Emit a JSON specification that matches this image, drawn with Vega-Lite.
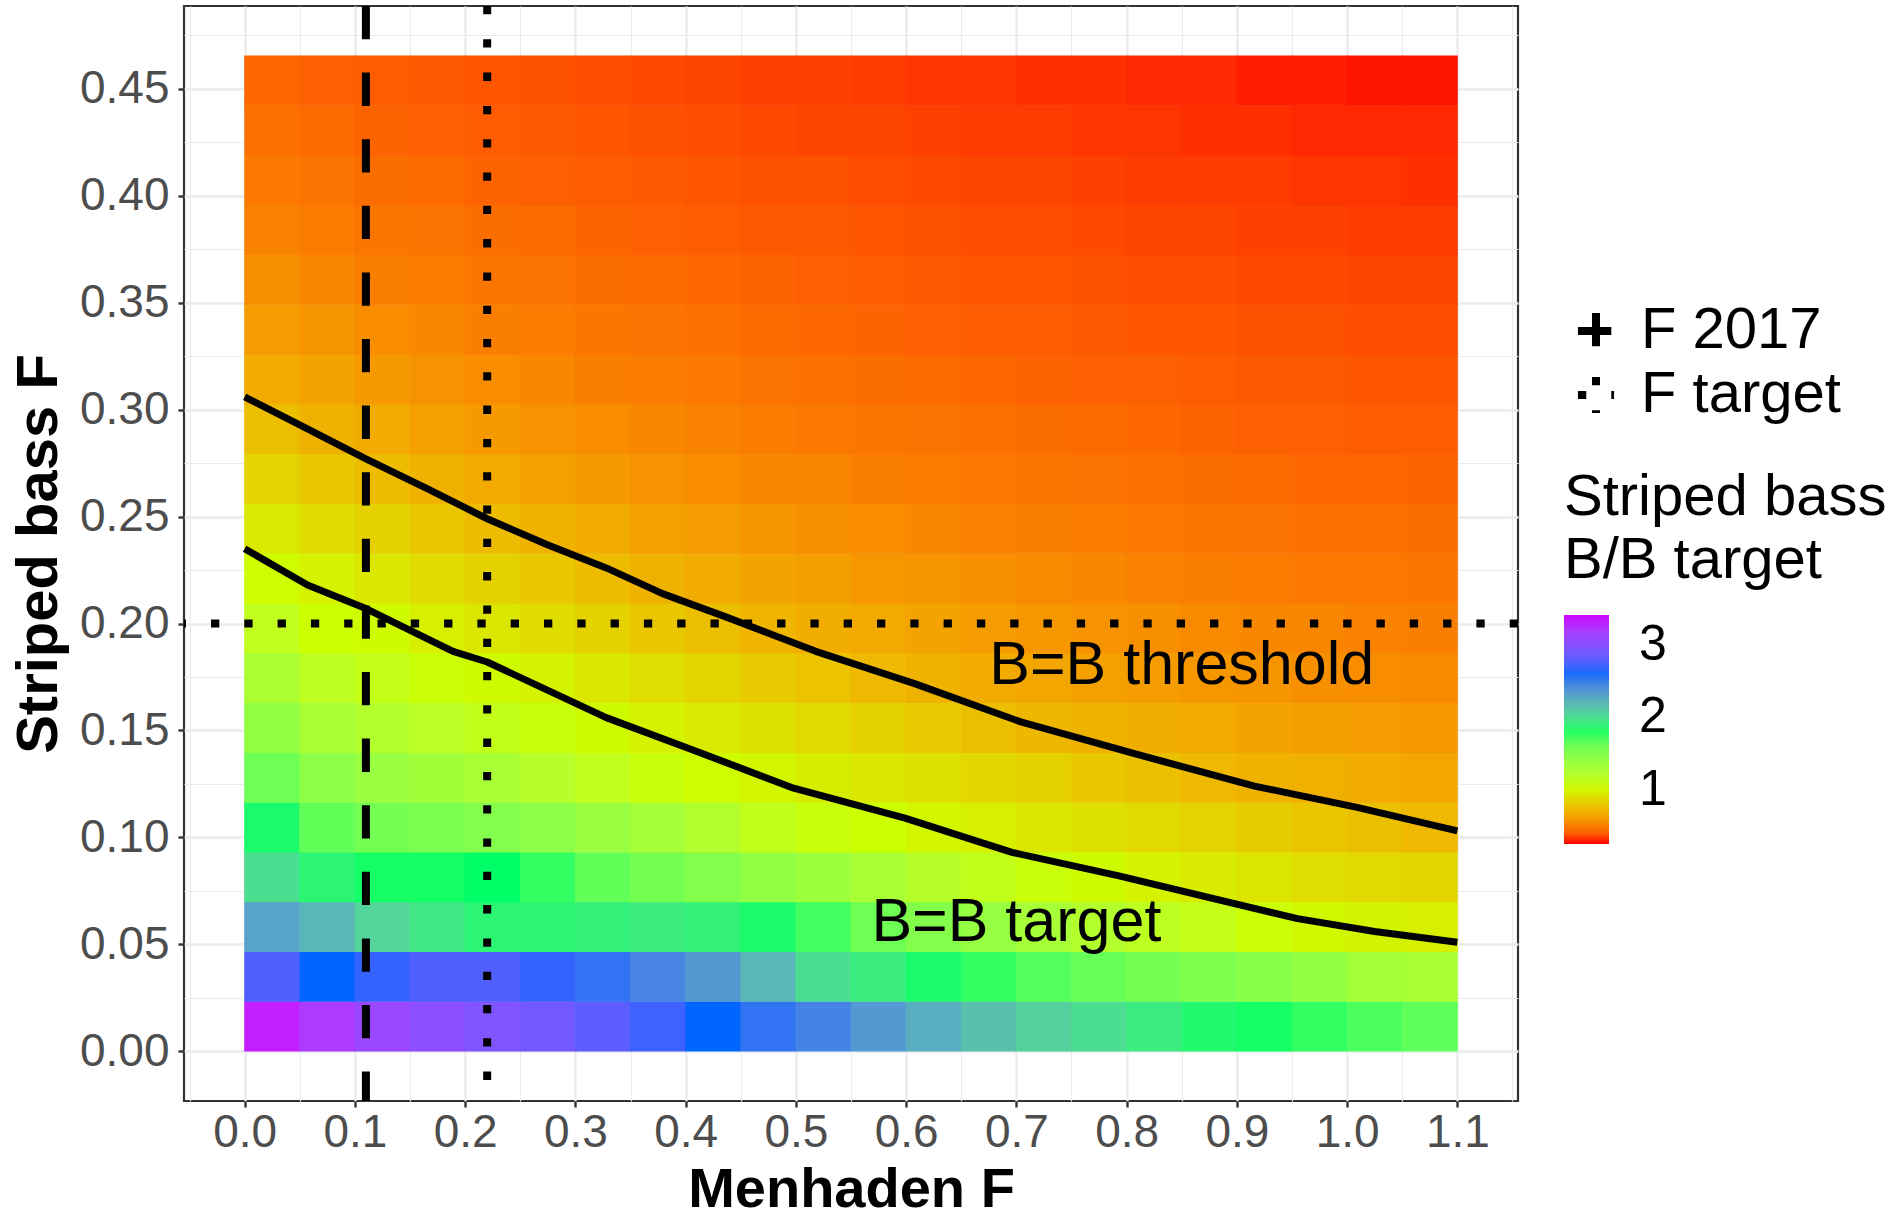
{
"$schema":"https://vega.github.io/schema/vega-lite/v6.json",
"autosize":{"type":"none"},
"padding":{"left":184,"top":6,"right":379,"bottom":119},
"width":1334,
"height":1095,
"background":"#FFFFFF",
"config":{"font":"Liberation Sans","view":{"stroke":"#333333","strokeWidth":2.2}},
"datasets":{
"heat":[
{"x":0.025,"y":0.0116,"v":3.35},{"x":0.075,"y":0.0116,"v":3.2},{"x":0.125,"y":0.0116,"v":3.1},{"x":0.175,"y":0.0116,"v":3.02},{"x":0.225,"y":0.0116,"v":2.95},{"x":0.275,"y":0.0116,"v":2.88},{"x":0.325,"y":0.0116,"v":2.8},{"x":0.375,"y":0.0116,"v":2.7},{"x":0.425,"y":0.0116,"v":2.62},{"x":0.475,"y":0.0116,"v":2.55},{"x":0.525,"y":0.0116,"v":2.47},{"x":0.575,"y":0.0116,"v":2.35},{"x":0.625,"y":0.0116,"v":2.25},{"x":0.675,"y":0.0116,"v":2.15},{"x":0.725,"y":0.0116,"v":2.07},{"x":0.775,"y":0.0116,"v":2.0},{"x":0.825,"y":0.0116,"v":1.93},{"x":0.875,"y":0.0116,"v":1.86},{"x":0.925,"y":0.0116,"v":1.82},{"x":0.975,"y":0.0116,"v":1.78},{"x":1.025,"y":0.0116,"v":1.72},{"x":1.075,"y":0.0116,"v":1.66},
{"x":0.025,"y":0.0349,"v":2.75},{"x":0.075,"y":0.0349,"v":2.62},{"x":0.125,"y":0.0349,"v":2.68},{"x":0.175,"y":0.0349,"v":2.75},{"x":0.225,"y":0.0349,"v":2.75},{"x":0.275,"y":0.0349,"v":2.68},{"x":0.325,"y":0.0349,"v":2.55},{"x":0.375,"y":0.0349,"v":2.45},{"x":0.425,"y":0.0349,"v":2.35},{"x":0.475,"y":0.0349,"v":2.2},{"x":0.525,"y":0.0349,"v":2.0},{"x":0.575,"y":0.0349,"v":1.92},{"x":0.625,"y":0.0349,"v":1.85},{"x":0.675,"y":0.0349,"v":1.78},{"x":0.725,"y":0.0349,"v":1.7},{"x":0.775,"y":0.0349,"v":1.63},{"x":0.825,"y":0.0349,"v":1.57},{"x":0.875,"y":0.0349,"v":1.52},{"x":0.925,"y":0.0349,"v":1.47},{"x":0.975,"y":0.0349,"v":1.42},{"x":1.025,"y":0.0349,"v":1.32},{"x":1.075,"y":0.0349,"v":1.28},
{"x":0.025,"y":0.0582,"v":2.3},{"x":0.075,"y":0.0582,"v":2.2},{"x":0.125,"y":0.0582,"v":2.05},{"x":0.175,"y":0.0582,"v":1.95},{"x":0.225,"y":0.0582,"v":1.88},{"x":0.275,"y":0.0582,"v":1.88},{"x":0.325,"y":0.0582,"v":1.9},{"x":0.375,"y":0.0582,"v":1.92},{"x":0.425,"y":0.0582,"v":1.9},{"x":0.475,"y":0.0582,"v":1.85},{"x":0.525,"y":0.0582,"v":1.75},{"x":0.575,"y":0.0582,"v":1.6},{"x":0.625,"y":0.0582,"v":1.5},{"x":0.675,"y":0.0582,"v":1.4},{"x":0.725,"y":0.0582,"v":1.3},{"x":0.775,"y":0.0582,"v":1.22},{"x":0.825,"y":0.0582,"v":1.15},{"x":0.875,"y":0.0582,"v":1.1},{"x":0.925,"y":0.0582,"v":1.05},{"x":0.975,"y":0.0582,"v":1.01},{"x":1.025,"y":0.0582,"v":0.99},{"x":1.075,"y":0.0582,"v":0.97},
{"x":0.025,"y":0.0815,"v":2.0},{"x":0.075,"y":0.0815,"v":1.88},{"x":0.125,"y":0.0815,"v":1.82},{"x":0.175,"y":0.0815,"v":1.82},{"x":0.225,"y":0.0815,"v":1.83},{"x":0.275,"y":0.0815,"v":1.78},{"x":0.325,"y":0.0815,"v":1.65},{"x":0.375,"y":0.0815,"v":1.58},{"x":0.425,"y":0.0815,"v":1.5},{"x":0.475,"y":0.0815,"v":1.42},{"x":0.525,"y":0.0815,"v":1.35},{"x":0.575,"y":0.0815,"v":1.28},{"x":0.625,"y":0.0815,"v":1.2},{"x":0.675,"y":0.0815,"v":1.12},{"x":0.725,"y":0.0815,"v":1.06},{"x":0.775,"y":0.0815,"v":1.02},{"x":0.825,"y":0.0815,"v":0.98},{"x":0.875,"y":0.0815,"v":0.95},{"x":0.925,"y":0.0815,"v":0.92},{"x":0.975,"y":0.0815,"v":0.89},{"x":1.025,"y":0.0815,"v":0.87},{"x":1.075,"y":0.0815,"v":0.85},
{"x":0.025,"y":0.1047,"v":1.85},{"x":0.075,"y":0.1047,"v":1.65},{"x":0.125,"y":0.1047,"v":1.58},{"x":0.175,"y":0.1047,"v":1.55},{"x":0.225,"y":0.1047,"v":1.5},{"x":0.275,"y":0.1047,"v":1.45},{"x":0.325,"y":0.1047,"v":1.38},{"x":0.375,"y":0.1047,"v":1.3},{"x":0.425,"y":0.1047,"v":1.22},{"x":0.475,"y":0.1047,"v":1.12},{"x":0.525,"y":0.1047,"v":1.07},{"x":0.575,"y":0.1047,"v":1.04},{"x":0.625,"y":0.1047,"v":1.0},{"x":0.675,"y":0.1047,"v":0.97},{"x":0.725,"y":0.1047,"v":0.93},{"x":0.775,"y":0.1047,"v":0.9},{"x":0.825,"y":0.1047,"v":0.87},{"x":0.875,"y":0.1047,"v":0.84},{"x":0.925,"y":0.1047,"v":0.81},{"x":0.975,"y":0.1047,"v":0.78},{"x":1.025,"y":0.1047,"v":0.76},{"x":1.075,"y":0.1047,"v":0.73},
{"x":0.025,"y":0.128,"v":1.6},{"x":0.075,"y":0.128,"v":1.45},{"x":0.125,"y":0.128,"v":1.38},{"x":0.175,"y":0.128,"v":1.33},{"x":0.225,"y":0.128,"v":1.28},{"x":0.275,"y":0.128,"v":1.2},{"x":0.325,"y":0.128,"v":1.13},{"x":0.375,"y":0.128,"v":1.07},{"x":0.425,"y":0.128,"v":1.03},{"x":0.475,"y":0.128,"v":1.0},{"x":0.525,"y":0.128,"v":0.96},{"x":0.575,"y":0.128,"v":0.93},{"x":0.625,"y":0.128,"v":0.9},{"x":0.675,"y":0.128,"v":0.86},{"x":0.725,"y":0.128,"v":0.83},{"x":0.775,"y":0.128,"v":0.79},{"x":0.825,"y":0.128,"v":0.76},{"x":0.875,"y":0.128,"v":0.73},{"x":0.925,"y":0.128,"v":0.7},{"x":0.975,"y":0.128,"v":0.69},{"x":1.025,"y":0.128,"v":0.67},{"x":1.075,"y":0.128,"v":0.65},
{"x":0.025,"y":0.1513,"v":1.42},{"x":0.075,"y":0.1513,"v":1.28},{"x":0.125,"y":0.1513,"v":1.22},{"x":0.175,"y":0.1513,"v":1.17},{"x":0.225,"y":0.1513,"v":1.12},{"x":0.275,"y":0.1513,"v":1.07},{"x":0.325,"y":0.1513,"v":1.02},{"x":0.375,"y":0.1513,"v":0.98},{"x":0.425,"y":0.1513,"v":0.94},{"x":0.475,"y":0.1513,"v":0.9},{"x":0.525,"y":0.1513,"v":0.87},{"x":0.575,"y":0.1513,"v":0.83},{"x":0.625,"y":0.1513,"v":0.8},{"x":0.675,"y":0.1513,"v":0.75},{"x":0.725,"y":0.1513,"v":0.72},{"x":0.775,"y":0.1513,"v":0.7},{"x":0.825,"y":0.1513,"v":0.68},{"x":0.875,"y":0.1513,"v":0.66},{"x":0.925,"y":0.1513,"v":0.64},{"x":0.975,"y":0.1513,"v":0.62},{"x":1.025,"y":0.1513,"v":0.61},{"x":1.075,"y":0.1513,"v":0.59},
{"x":0.025,"y":0.1746,"v":1.27},{"x":0.075,"y":0.1746,"v":1.15},{"x":0.125,"y":0.1746,"v":1.1},{"x":0.175,"y":0.1746,"v":1.05},{"x":0.225,"y":0.1746,"v":1.02},{"x":0.275,"y":0.1746,"v":0.98},{"x":0.325,"y":0.1746,"v":0.93},{"x":0.375,"y":0.1746,"v":0.89},{"x":0.425,"y":0.1746,"v":0.85},{"x":0.475,"y":0.1746,"v":0.8},{"x":0.525,"y":0.1746,"v":0.77},{"x":0.575,"y":0.1746,"v":0.73},{"x":0.625,"y":0.1746,"v":0.7},{"x":0.675,"y":0.1746,"v":0.67},{"x":0.725,"y":0.1746,"v":0.65},{"x":0.775,"y":0.1746,"v":0.63},{"x":0.825,"y":0.1746,"v":0.61},{"x":0.875,"y":0.1746,"v":0.59},{"x":0.925,"y":0.1746,"v":0.58},{"x":0.975,"y":0.1746,"v":0.56},{"x":1.025,"y":0.1746,"v":0.55},{"x":1.075,"y":0.1746,"v":0.54},
{"x":0.025,"y":0.1979,"v":1.13},{"x":0.075,"y":0.1979,"v":1.04},{"x":0.125,"y":0.1979,"v":1.02},{"x":0.175,"y":0.1979,"v":0.97},{"x":0.225,"y":0.1979,"v":0.93},{"x":0.275,"y":0.1979,"v":0.88},{"x":0.325,"y":0.1979,"v":0.83},{"x":0.375,"y":0.1979,"v":0.79},{"x":0.425,"y":0.1979,"v":0.75},{"x":0.475,"y":0.1979,"v":0.71},{"x":0.525,"y":0.1979,"v":0.68},{"x":0.575,"y":0.1979,"v":0.66},{"x":0.625,"y":0.1979,"v":0.64},{"x":0.675,"y":0.1979,"v":0.61},{"x":0.725,"y":0.1979,"v":0.59},{"x":0.775,"y":0.1979,"v":0.57},{"x":0.825,"y":0.1979,"v":0.56},{"x":0.875,"y":0.1979,"v":0.54},{"x":0.925,"y":0.1979,"v":0.53},{"x":0.975,"y":0.1979,"v":0.52},{"x":1.025,"y":0.1979,"v":0.51},{"x":1.075,"y":0.1979,"v":0.5},
{"x":0.025,"y":0.2211,"v":1.03},{"x":0.075,"y":0.2211,"v":0.98},{"x":0.125,"y":0.2211,"v":0.93},{"x":0.175,"y":0.2211,"v":0.88},{"x":0.225,"y":0.2211,"v":0.83},{"x":0.275,"y":0.2211,"v":0.79},{"x":0.325,"y":0.2211,"v":0.74},{"x":0.375,"y":0.2211,"v":0.7},{"x":0.425,"y":0.2211,"v":0.67},{"x":0.475,"y":0.2211,"v":0.64},{"x":0.525,"y":0.2211,"v":0.62},{"x":0.575,"y":0.2211,"v":0.59},{"x":0.625,"y":0.2211,"v":0.58},{"x":0.675,"y":0.2211,"v":0.56},{"x":0.725,"y":0.2211,"v":0.54},{"x":0.775,"y":0.2211,"v":0.53},{"x":0.825,"y":0.2211,"v":0.51},{"x":0.875,"y":0.2211,"v":0.5},{"x":0.925,"y":0.2211,"v":0.49},{"x":0.975,"y":0.2211,"v":0.48},{"x":1.025,"y":0.2211,"v":0.48},{"x":1.075,"y":0.2211,"v":0.47},
{"x":0.025,"y":0.2444,"v":0.94},{"x":0.075,"y":0.2444,"v":0.88},{"x":0.125,"y":0.2444,"v":0.83},{"x":0.175,"y":0.2444,"v":0.79},{"x":0.225,"y":0.2444,"v":0.74},{"x":0.275,"y":0.2444,"v":0.7},{"x":0.325,"y":0.2444,"v":0.67},{"x":0.375,"y":0.2444,"v":0.63},{"x":0.425,"y":0.2444,"v":0.61},{"x":0.475,"y":0.2444,"v":0.58},{"x":0.525,"y":0.2444,"v":0.56},{"x":0.575,"y":0.2444,"v":0.55},{"x":0.625,"y":0.2444,"v":0.53},{"x":0.675,"y":0.2444,"v":0.51},{"x":0.725,"y":0.2444,"v":0.5},{"x":0.775,"y":0.2444,"v":0.49},{"x":0.825,"y":0.2444,"v":0.48},{"x":0.875,"y":0.2444,"v":0.47},{"x":0.925,"y":0.2444,"v":0.46},{"x":0.975,"y":0.2444,"v":0.45},{"x":1.025,"y":0.2444,"v":0.45},{"x":1.075,"y":0.2444,"v":0.44},
{"x":0.025,"y":0.2677,"v":0.84},{"x":0.075,"y":0.2677,"v":0.79},{"x":0.125,"y":0.2677,"v":0.74},{"x":0.175,"y":0.2677,"v":0.7},{"x":0.225,"y":0.2677,"v":0.66},{"x":0.275,"y":0.2677,"v":0.63},{"x":0.325,"y":0.2677,"v":0.6},{"x":0.375,"y":0.2677,"v":0.57},{"x":0.425,"y":0.2677,"v":0.55},{"x":0.475,"y":0.2677,"v":0.53},{"x":0.525,"y":0.2677,"v":0.52},{"x":0.575,"y":0.2677,"v":0.5},{"x":0.625,"y":0.2677,"v":0.49},{"x":0.675,"y":0.2677,"v":0.48},{"x":0.725,"y":0.2677,"v":0.47},{"x":0.775,"y":0.2677,"v":0.46},{"x":0.825,"y":0.2677,"v":0.45},{"x":0.875,"y":0.2677,"v":0.44},{"x":0.925,"y":0.2677,"v":0.43},{"x":0.975,"y":0.2677,"v":0.42},{"x":1.025,"y":0.2677,"v":0.42},{"x":1.075,"y":0.2677,"v":0.41},
{"x":0.025,"y":0.291,"v":0.75},{"x":0.075,"y":0.291,"v":0.7},{"x":0.125,"y":0.291,"v":0.67},{"x":0.175,"y":0.291,"v":0.63},{"x":0.225,"y":0.291,"v":0.6},{"x":0.275,"y":0.291,"v":0.57},{"x":0.325,"y":0.291,"v":0.55},{"x":0.375,"y":0.291,"v":0.53},{"x":0.425,"y":0.291,"v":0.51},{"x":0.475,"y":0.291,"v":0.49},{"x":0.525,"y":0.291,"v":0.48},{"x":0.575,"y":0.291,"v":0.47},{"x":0.625,"y":0.291,"v":0.46},{"x":0.675,"y":0.291,"v":0.45},{"x":0.725,"y":0.291,"v":0.44},{"x":0.775,"y":0.291,"v":0.43},{"x":0.825,"y":0.291,"v":0.42},{"x":0.875,"y":0.291,"v":0.41},{"x":0.925,"y":0.291,"v":0.4},{"x":0.975,"y":0.291,"v":0.4},{"x":1.025,"y":0.291,"v":0.39},{"x":1.075,"y":0.291,"v":0.39},
{"x":0.025,"y":0.3142,"v":0.67},{"x":0.075,"y":0.3142,"v":0.64},{"x":0.125,"y":0.3142,"v":0.6},{"x":0.175,"y":0.3142,"v":0.57},{"x":0.225,"y":0.3142,"v":0.55},{"x":0.275,"y":0.3142,"v":0.53},{"x":0.325,"y":0.3142,"v":0.5},{"x":0.375,"y":0.3142,"v":0.49},{"x":0.425,"y":0.3142,"v":0.48},{"x":0.475,"y":0.3142,"v":0.46},{"x":0.525,"y":0.3142,"v":0.45},{"x":0.575,"y":0.3142,"v":0.44},{"x":0.625,"y":0.3142,"v":0.43},{"x":0.675,"y":0.3142,"v":0.42},{"x":0.725,"y":0.3142,"v":0.41},{"x":0.775,"y":0.3142,"v":0.4},{"x":0.825,"y":0.3142,"v":0.4},{"x":0.875,"y":0.3142,"v":0.39},{"x":0.925,"y":0.3142,"v":0.38},{"x":0.975,"y":0.3142,"v":0.38},{"x":1.025,"y":0.3142,"v":0.37},{"x":1.075,"y":0.3142,"v":0.37},
{"x":0.025,"y":0.3375,"v":0.61},{"x":0.075,"y":0.3375,"v":0.58},{"x":0.125,"y":0.3375,"v":0.55},{"x":0.175,"y":0.3375,"v":0.53},{"x":0.225,"y":0.3375,"v":0.5},{"x":0.275,"y":0.3375,"v":0.49},{"x":0.325,"y":0.3375,"v":0.47},{"x":0.375,"y":0.3375,"v":0.46},{"x":0.425,"y":0.3375,"v":0.45},{"x":0.475,"y":0.3375,"v":0.43},{"x":0.525,"y":0.3375,"v":0.42},{"x":0.575,"y":0.3375,"v":0.41},{"x":0.625,"y":0.3375,"v":0.4},{"x":0.675,"y":0.3375,"v":0.39},{"x":0.725,"y":0.3375,"v":0.39},{"x":0.775,"y":0.3375,"v":0.38},{"x":0.825,"y":0.3375,"v":0.37},{"x":0.875,"y":0.3375,"v":0.37},{"x":0.925,"y":0.3375,"v":0.36},{"x":0.975,"y":0.3375,"v":0.36},{"x":1.025,"y":0.3375,"v":0.35},{"x":1.075,"y":0.3375,"v":0.35},
{"x":0.025,"y":0.3608,"v":0.56},{"x":0.075,"y":0.3608,"v":0.53},{"x":0.125,"y":0.3608,"v":0.5},{"x":0.175,"y":0.3608,"v":0.49},{"x":0.225,"y":0.3608,"v":0.47},{"x":0.275,"y":0.3608,"v":0.46},{"x":0.325,"y":0.3608,"v":0.44},{"x":0.375,"y":0.3608,"v":0.43},{"x":0.425,"y":0.3608,"v":0.42},{"x":0.475,"y":0.3608,"v":0.41},{"x":0.525,"y":0.3608,"v":0.4},{"x":0.575,"y":0.3608,"v":0.39},{"x":0.625,"y":0.3608,"v":0.38},{"x":0.675,"y":0.3608,"v":0.37},{"x":0.725,"y":0.3608,"v":0.37},{"x":0.775,"y":0.3608,"v":0.36},{"x":0.825,"y":0.3608,"v":0.35},{"x":0.875,"y":0.3608,"v":0.35},{"x":0.925,"y":0.3608,"v":0.34},{"x":0.975,"y":0.3608,"v":0.34},{"x":1.025,"y":0.3608,"v":0.33},{"x":1.075,"y":0.3608,"v":0.33},
{"x":0.025,"y":0.3841,"v":0.51},{"x":0.075,"y":0.3841,"v":0.49},{"x":0.125,"y":0.3841,"v":0.47},{"x":0.175,"y":0.3841,"v":0.46},{"x":0.225,"y":0.3841,"v":0.44},{"x":0.275,"y":0.3841,"v":0.43},{"x":0.325,"y":0.3841,"v":0.41},{"x":0.375,"y":0.3841,"v":0.4},{"x":0.425,"y":0.3841,"v":0.39},{"x":0.475,"y":0.3841,"v":0.38},{"x":0.525,"y":0.3841,"v":0.38},{"x":0.575,"y":0.3841,"v":0.37},{"x":0.625,"y":0.3841,"v":0.36},{"x":0.675,"y":0.3841,"v":0.35},{"x":0.725,"y":0.3841,"v":0.35},{"x":0.775,"y":0.3841,"v":0.34},{"x":0.825,"y":0.3841,"v":0.33},{"x":0.875,"y":0.3841,"v":0.33},{"x":0.925,"y":0.3841,"v":0.32},{"x":0.975,"y":0.3841,"v":0.32},{"x":1.025,"y":0.3841,"v":0.31},{"x":1.075,"y":0.3841,"v":0.31},
{"x":0.025,"y":0.4073,"v":0.48},{"x":0.075,"y":0.4073,"v":0.46},{"x":0.125,"y":0.4073,"v":0.44},{"x":0.175,"y":0.4073,"v":0.43},{"x":0.225,"y":0.4073,"v":0.41},{"x":0.275,"y":0.4073,"v":0.4},{"x":0.325,"y":0.4073,"v":0.39},{"x":0.375,"y":0.4073,"v":0.38},{"x":0.425,"y":0.4073,"v":0.37},{"x":0.475,"y":0.4073,"v":0.36},{"x":0.525,"y":0.4073,"v":0.36},{"x":0.575,"y":0.4073,"v":0.35},{"x":0.625,"y":0.4073,"v":0.34},{"x":0.675,"y":0.4073,"v":0.33},{"x":0.725,"y":0.4073,"v":0.33},{"x":0.775,"y":0.4073,"v":0.32},{"x":0.825,"y":0.4073,"v":0.31},{"x":0.875,"y":0.4073,"v":0.31},{"x":0.925,"y":0.4073,"v":0.31},{"x":0.975,"y":0.4073,"v":0.3},{"x":1.025,"y":0.4073,"v":0.3},{"x":1.075,"y":0.4073,"v":0.29},
{"x":0.025,"y":0.4306,"v":0.45},{"x":0.075,"y":0.4306,"v":0.43},{"x":0.125,"y":0.4306,"v":0.41},{"x":0.175,"y":0.4306,"v":0.4},{"x":0.225,"y":0.4306,"v":0.39},{"x":0.275,"y":0.4306,"v":0.38},{"x":0.325,"y":0.4306,"v":0.37},{"x":0.375,"y":0.4306,"v":0.36},{"x":0.425,"y":0.4306,"v":0.35},{"x":0.475,"y":0.4306,"v":0.34},{"x":0.525,"y":0.4306,"v":0.33},{"x":0.575,"y":0.4306,"v":0.33},{"x":0.625,"y":0.4306,"v":0.32},{"x":0.675,"y":0.4306,"v":0.31},{"x":0.725,"y":0.4306,"v":0.31},{"x":0.775,"y":0.4306,"v":0.3},{"x":0.825,"y":0.4306,"v":0.3},{"x":0.875,"y":0.4306,"v":0.29},{"x":0.925,"y":0.4306,"v":0.29},{"x":0.975,"y":0.4306,"v":0.28},{"x":1.025,"y":0.4306,"v":0.28},{"x":1.075,"y":0.4306,"v":0.28},
{"x":0.025,"y":0.4539,"v":0.42},{"x":0.075,"y":0.4539,"v":0.4},{"x":0.125,"y":0.4539,"v":0.39},{"x":0.175,"y":0.4539,"v":0.38},{"x":0.225,"y":0.4539,"v":0.37},{"x":0.275,"y":0.4539,"v":0.36},{"x":0.325,"y":0.4539,"v":0.35},{"x":0.375,"y":0.4539,"v":0.34},{"x":0.425,"y":0.4539,"v":0.33},{"x":0.475,"y":0.4539,"v":0.32},{"x":0.525,"y":0.4539,"v":0.32},{"x":0.575,"y":0.4539,"v":0.31},{"x":0.625,"y":0.4539,"v":0.3},{"x":0.675,"y":0.4539,"v":0.3},{"x":0.725,"y":0.4539,"v":0.29},{"x":0.775,"y":0.4539,"v":0.29},{"x":0.825,"y":0.4539,"v":0.28},{"x":0.875,"y":0.4539,"v":0.28},{"x":0.925,"y":0.4539,"v":0.27},{"x":0.975,"y":0.4539,"v":0.27},{"x":1.025,"y":0.4539,"v":0.26},{"x":1.075,"y":0.4539,"v":0.26}
],
"contour":[
{"level":"threshold","x":0,"y":0.306},{"level":"threshold","x":0.057,"y":0.291},{"level":"threshold","x":0.11,"y":0.277},{"level":"threshold","x":0.166,"y":0.263},{"level":"threshold","x":0.22,"y":0.249},{"level":"threshold","x":0.274,"y":0.237},{"level":"threshold","x":0.328,"y":0.226},{"level":"threshold","x":0.379,"y":0.214},{"level":"threshold","x":0.437,"y":0.203},{"level":"threshold","x":0.518,"y":0.187},{"level":"threshold","x":0.607,"y":0.172},{"level":"threshold","x":0.704,"y":0.154},{"level":"threshold","x":0.808,"y":0.139},{"level":"threshold","x":0.916,"y":0.124},{"level":"threshold","x":1.009,"y":0.114},{"level":"threshold","x":1.1,"y":0.103},
{"level":"target","x":0,"y":0.235},{"level":"target","x":0.057,"y":0.218},{"level":"target","x":0.11,"y":0.207},{"level":"target","x":0.189,"y":0.187},{"level":"target","x":0.22,"y":0.182},{"level":"target","x":0.328,"y":0.156},{"level":"target","x":0.406,"y":0.141},{"level":"target","x":0.498,"y":0.123},{"level":"target","x":0.599,"y":0.109},{"level":"target","x":0.696,"y":0.093},{"level":"target","x":0.793,"y":0.082},{"level":"target","x":0.955,"y":0.062},{"level":"target","x":1.025,"y":0.056},{"level":"target","x":1.1,"y":0.051}
],
"vlines":[{"x":0.11,"type":"F 2017"},{"x":0.22,"type":"F target"}],
"hlines":[{"y":0.2,"type":"F target"}],
"labels":[{"x":0.85,"y":0.18,"label":"B=B threshold"},{"x":0.7,"y":0.06,"label":"B=B target"}]
},
"layer":[
{
"data":{"name":"heat"},
"mark":{"type":"point","shape":"M-1,-0.9L1,-0.9L1,0.9L-1,0.9Z","size":3136,"filled":true,"opacity":1,"strokeWidth":0},
"encoding":{
"x":{"field":"x","type":"quantitative","title":"Menhaden F","scale":{"domain":[-0.055,1.155],"nice":false,"zero":false},
"axis":{"values":[-0.05,0,0.05,0.1,0.15,0.2,0.25,0.3,0.35,0.4,0.45,0.5,0.55,0.6,0.65,0.7,0.75,0.8,0.85,0.9,0.95,1,1.05,1.1,1.15],
"labelExpr":"abs(round(datum.value*20)) % 2 == 0 ? format(datum.value, '.1f') : ''",
"domain":false,"grid":true,"gridColor":"#EBEBEB",
"gridWidth":{"condition":{"test":"abs(round(datum.value*20)) % 2 == 0","value":2.4},"value":1.2},
"tickColor":{"condition":{"test":"abs(round(datum.value*20)) % 2 == 0","value":"#333333"},"value":"rgba(0,0,0,0)"},
"tickSize":6,"tickWidth":2.4,"labelFont":"Liberation Sans","labelFontSize":46,"labelColor":"#4D4D4D","labelPadding":3,
"labelOverlap":false,"labelFlush":false,"labelBound":false,
"titleFont":"Liberation Sans","titleFontSize":56,"titleFontWeight":"bold","titleColor":"#000000","titlePadding":7.5}},
"y":{"field":"y","type":"quantitative","title":"Striped bass F","scale":{"domain":[-0.023275,0.488775],"nice":false,"zero":false},
"axis":{"values":[0,0.025,0.05,0.075,0.1,0.125,0.15,0.175,0.2,0.225,0.25,0.275,0.3,0.325,0.35,0.375,0.4,0.425,0.45,0.475],
"labelExpr":"round(datum.value*40) % 2 == 0 ? format(datum.value, '.2f') : ''",
"domain":false,"grid":true,"gridColor":"#EBEBEB",
"gridWidth":{"condition":{"test":"round(datum.value*40) % 2 == 0","value":2.4},"value":1.2},
"tickColor":{"condition":{"test":"round(datum.value*40) % 2 == 0","value":"#333333"},"value":"rgba(0,0,0,0)"},
"tickSize":6,"tickWidth":2.4,"labelFont":"Liberation Sans","labelFontSize":46,"labelColor":"#4D4D4D","labelPadding":9,
"labelOverlap":false,"labelFlush":false,"labelBound":false,
"titleFont":"Liberation Sans","titleFontSize":58,"titleFontWeight":"bold","titleColor":"#000000","titlePadding":11}},
"color":{"field":"v","type":"quantitative",
"scale":{"domain":[0.25,1.04,1.83,2.62,3.41],"range":["#FF0000","#CCFF00","#00FF66","#0066FF","#CC00FF"],"interpolate":"lab"},
"legend":{"orient":"none","legendX":1380,"legendY":463,"title":["Striped bass","B/B target"],"titleFont":"Liberation Sans","titleFontSize":58,"titleFontWeight":"normal","titleColor":"#000000","titleLineHeight":63,"titlePadding":25,"titleLimit":1000,
"gradientLength":229,"gradientThickness":45,"gradientStrokeWidth":0,"values":[1,2,3],"labelFont":"Liberation Sans","labelFontSize":50,"labelColor":"#000000","labelOffset":30,"labelOverlap":false,"labelLimit":1000,"direction":"vertical","padding":0}}
}
},
{
"data":{"name":"contour"},
"mark":{"type":"line","color":"#000000","strokeWidth":7,"strokeCap":"butt","strokeJoin":"round"},
"encoding":{
"x":{"field":"x","type":"quantitative","title":"Menhaden F"},
"y":{"field":"y","type":"quantitative","title":"Striped bass F"},
"detail":{"field":"level","type":"nominal"}
}
},
{
"data":{"name":"vlines"},
"mark":{"type":"rule","color":"#000000","strokeWidth":8},
"encoding":{
"x":{"field":"x","type":"quantitative","title":"Menhaden F"},
"strokeDash":{"field":"type","type":"nominal","scale":{"domain":["F 2017","F target"],"range":[[33.3,33.3],[8.3,25]]},
"legend":{"orient":"none","legendX":1383,"legendY":296,"title":null,"symbolType":"M-1,0L1,0M0,-1L0,1","symbolSize":1300,"symbolStrokeWidth":8,"symbolStrokeColor":"#000000","symbolFillColor":"transparent","labelFont":"Liberation Sans","labelFontSize":58,"labelColor":"#000000","labelOffset":16,"labelLimit":1000,"rowPadding":-8,"padding":0}}
}
},
{
"data":{"name":"hlines"},
"mark":{"type":"rule","color":"#000000","strokeWidth":8},
"encoding":{
"y":{"field":"y","type":"quantitative","title":"Striped bass F"},
"strokeDash":{"field":"type","type":"nominal"}
}
},
{
"data":{"name":"labels"},
"mark":{"type":"text","font":"Liberation Sans","fontSize":61,"color":"#000000","align":"center","baseline":"middle"},
"encoding":{
"x":{"field":"x","type":"quantitative","title":"Menhaden F"},
"y":{"field":"y","type":"quantitative","title":"Striped bass F"},
"text":{"field":"label","type":"nominal"}
}
}
]
}
